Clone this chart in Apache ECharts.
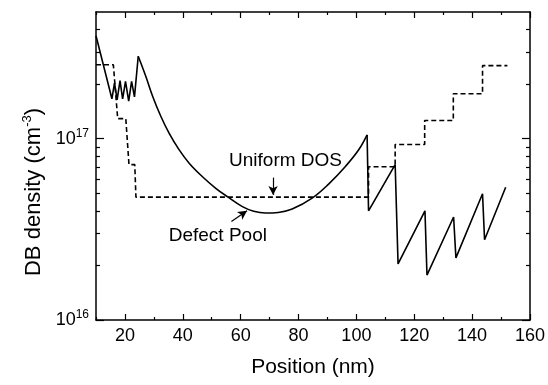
<!DOCTYPE html>
<html>
<head>
<meta charset="utf-8">
<script src="https://cdn.jsdelivr.net/npm/echarts@6/dist/echarts.min.js"></script>
<style>
  html, body { margin: 0; padding: 0; background: #fff; }
  #chart { width: 548px; height: 385px; }
</style>
</head>
<body>
<div id="chart"></div>
<script>
// Defect Pool (solid line), position in nm and DB density in cm^-3
const poolX = [10, 15.5, 16.4, 17.3, 18.3, 19.2, 20.2, 21.3, 22.3, 23.3, 24.6,
    27.2, 29.6, 32.4, 35.3, 38.7, 42.2, 46.8, 51.4, 55.4, 60.6, 64.5, 68.6, 73, 77.8,
    84.7, 90.4, 96.2, 100.8, 103.7, 104.2, 113.4, 114.4, 123.7, 124.4, 133.6, 134.4,
    143.6, 144.3, 151.6];
const poolY = [3.7e17, 1.66e17, 2.03e17, 1.64e17, 2.09e17, 1.66e17, 2.07e17, 1.61e17, 2.07e17, 1.7e17, 2.85e17,
    2.21e17, 1.71e17, 1.33e17, 1.07e17, 8.7e16, 7.33e16, 6.17e16, 5.33e16, 4.79e16, 4.22e16, 3.98e16, 3.89e16, 3.92e16, 4.09e16,
    4.7e16, 5.62e16, 7.03e16, 8.69e16, 1.05e17, 4.0e16, 7.2e16, 2.04e16, 4.0e16, 1.77e16, 3.7e16, 2.2e16,
    4.97e16, 2.77e16, 5.4e16];
// the smooth bowl runs from the peak at 24.6 nm to the peak at 103.7 nm
const bowlStart = 10, bowlEnd = 29;

// Uniform DOS (dashed line)
const uniformX = [10, 16, 17.5, 20.3, 21.4, 23.4, 23.8, 104.2, 104.2, 113.4, 113.4, 123.6, 123.6,
    133.5, 133.5, 143.6, 143.6, 152.2];
const uniformY = [2.56e17, 2.56e17, 1.29e17, 1.29e17, 7.2e16, 7.2e16, 4.76e16, 4.76e16, 7.0e16, 7.0e16, 9.3e16, 9.3e16, 1.26e17,
    1.26e17, 1.77e17, 1.77e17, 2.53e17, 2.53e17];

// ticks
const xMajor = [20, 40, 60, 80, 100, 120, 140, 160];
const xMinor = [10, 30, 50, 70, 90, 110, 130, 150];
const yMajor = [1e16, 1e17];
const yMinor = [2e16, 3e16, 4e16, 5e16, 6e16, 7e16, 8e16, 9e16, 2e17, 3e17, 4e17, 5e17];

const FONT = 'Liberation Sans, Arial, sans-serif';
const chart = echarts.init(document.getElementById('chart'));

function xAx(pos, ticks, len, main) {
    return {
        type: 'value', position: pos, min: 10, max: 160,
        splitLine: { show: false },
        axisLine: { show: main, lineStyle: { color: '#000', width: 1.5 } },
        axisTick: { inside: true, length: len, customValues: ticks, lineStyle: { color: '#000', width: 1.2 } },
        axisLabel: main && pos === 'bottom'
            ? { customValues: xMajor, margin: 7, color: '#000', fontSize: 18, fontFamily: FONT }
            : { show: false },
        name: main && pos === 'bottom' ? 'Position (nm)' : '',
        nameLocation: 'middle', nameGap: 37,
        nameTextStyle: { color: '#000', fontSize: 21, fontFamily: FONT }
    };
}
function yAx(pos, ticks, len, main) {
    return {
        type: 'log', logBase: 10, position: pos, min: 1e16, max: 5e17,
        splitLine: { show: false },
        axisLine: { show: main, lineStyle: { color: '#000', width: 1.5 } },
        axisTick: { inside: true, length: len, customValues: ticks, lineStyle: { color: '#000', width: 1.2 } },
        axisLabel: main && pos === 'left' ? {
            customValues: yMajor, margin: 7,
            formatter: v => '{b|10}{s|' + Math.round(Math.log10(v)) + '}',
            rich: {
                b: { fontSize: 18, fontFamily: FONT, color: '#000' },
                s: { fontSize: 12, fontFamily: FONT, color: '#000', padding: [0, 0, 10, 0] }
            }
        } : { show: false },
        name: main && pos === 'left' ? 'DB density (cm{s|-3})' : '',
        nameLocation: 'middle', nameGap: 29,
        nameTextStyle: {
            color: '#000', fontSize: 22, fontFamily: FONT, padding: [0, 52, 0, 0],
            rich: { s: { fontSize: 13, fontFamily: FONT, color: '#000', padding: [0, 0, 12, 0] } }
        }
    };
}

const zip = (xs, ys) => xs.map((x, i) => [x, ys[i]]);
const pool = zip(poolX, poolY);
const solid = { color: '#000', width: 1.6 };

const option = {
    animation: false,
    backgroundColor: '#fff',
    grid: { left: 96, right: 17, top: 12, bottom: 65 },
    xAxis: [
        xAx('bottom', xMajor, 6, true), xAx('bottom', xMinor, 3, false),
        xAx('top', xMajor, 6, true), xAx('top', xMinor, 3, false)
    ],
    yAxis: [
        yAx('left', yMajor, 8, true), yAx('left', yMinor, 4, false),
        yAx('right', yMajor, 8, true), yAx('right', yMinor, 4, false)
    ],
    series: [
        {
            name: 'Defect Pool', type: 'line', data: pool.slice(0, bowlStart + 1),
            showSymbol: false, lineStyle: solid
        },
        {
            name: 'Defect Pool bowl', type: 'line', data: pool.slice(bowlStart, bowlEnd + 1),
            showSymbol: false, smooth: 0.4, lineStyle: solid,
            markPoint: {
                symbolSize: 0,
                label: { show: true, color: '#000', fontSize: 19, fontFamily: FONT, formatter: p => p.name },
                data: [{ name: 'Defect Pool', coord: [52.1, 2.93e16] }]
            },
            markLine: {
                silent: true, symbol: ['none', 'arrow'], symbolSize: [7, 9],
                label: { show: false },
                lineStyle: { color: '#000', type: 'solid', width: 1.2 },
                data: [[{ coord: [56.8, 3.49e16] }, { coord: [62.2, 4.0e16] }]]
            }
        },
        {
            name: 'Defect Pool saw', type: 'line', data: pool.slice(bowlEnd),
            showSymbol: false, lineStyle: solid
        },
        {
            name: 'Uniform DOS', type: 'line', data: zip(uniformX, uniformY),
            showSymbol: false, lineStyle: { color: '#000', width: 1.6, type: [5, 3] },
            markPoint: {
                symbolSize: 0,
                label: { show: true, color: '#000', fontSize: 19, fontFamily: FONT, formatter: p => p.name },
                data: [{ name: 'Uniform DOS', coord: [75.5, 7.51e16] }]
            },
            markLine: {
                silent: true, symbol: ['none', 'arrow'], symbolSize: [7, 9],
                label: { show: false },
                lineStyle: { color: '#000', type: 'solid', width: 1.2 },
                data: [[{ coord: [71.2, 6.1e16] }, { coord: [71.2, 4.9e16] }]]
            }
        }
    ]
};
chart.setOption(option);
</script>
</body>
</html>
